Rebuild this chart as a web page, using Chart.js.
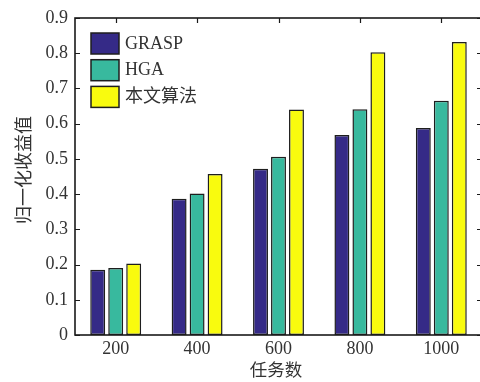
<!DOCTYPE html>
<html>
<head>
<meta charset="utf-8">
<script src="https://cdn.jsdelivr.net/npm/chart.js@4/dist/chart.umd.min.js"></script>
<style>
html,body{margin:0;padding:0;background:#fff;overflow:hidden;width:480px;height:382px;}
#wrap{position:absolute;left:0;top:0;width:486px;height:382px;}
</style>
</head>
<body>
<div id="wrap"><canvas id="c" width="486" height="382"></canvas></div>
<script>
const categories = ['200', '400', '600', '800', '1000'];
const seriesNames = ['GRASP', 'HGA', '本文算法'];
const graspValues = [0.185, 0.387, 0.472, 0.568, 0.588];
const hgaValues = [0.190, 0.402, 0.506, 0.641, 0.665];
const oursValues = [0.203, 0.457, 0.640, 0.803, 0.832];
const yTicks = [0, 0.1, 0.2, 0.3, 0.4, 0.5, 0.6, 0.7, 0.8, 0.9];
const xTitle = '任务数';
const yTitle = '归一化收益值';

const colors = ['#352a87', '#38b99e', '#f9fb0e'];
const edge = '#1e1e1e';
const txt = '#333333';
const FONT = '"Liberation Serif", "Times New Roman", "Noto Sans CJK SC", serif';

const overlay = {
  id: 'overlay',
  afterDatasetsDraw(chart) {
    const ctx = chart.ctx, a = chart.chartArea;
    const y = chart.scales.y, x = chart.scales.x;
    ctx.save();
    ctx.strokeStyle = '#1a1a1a';
    ctx.lineWidth = 1.6;
    ctx.strokeRect(a.left, a.top, a.right - a.left, a.bottom - a.top);
    ctx.lineWidth = 1.2;
    ctx.beginPath();
    yTicks.forEach(v => {
      const py = Math.round(y.getPixelForValue(v)) + 0.5;
      ctx.moveTo(a.left, py); ctx.lineTo(a.left + 5, py);
      ctx.moveTo(a.right, py); ctx.lineTo(a.right - 5, py);
    });
    categories.forEach((c, i) => {
      const px = Math.round(x.getPixelForValue(i)) + 0.5;
      ctx.moveTo(px, a.top); ctx.lineTo(px, a.top + 5);
    });
    ctx.stroke();
    // legend
    chart.data.datasets.forEach((ds, i) => {
      const bx = 91, by = 33 + i * 26.7, bw = 28, bh = 21;
      ctx.fillStyle = ds.backgroundColor;
      ctx.fillRect(bx, by, bw, bh);
      ctx.strokeStyle = edge; ctx.lineWidth = 1.5;
      ctx.strokeRect(bx, by, bw, bh);
      ctx.fillStyle = txt;
      ctx.font = '18px ' + FONT;
      ctx.textAlign = 'left'; ctx.textBaseline = 'middle';
      ctx.fillText(ds.label, 125, by + bh / 2 + 0.5);
    });
    // axis titles
    ctx.fillStyle = txt;
    ctx.font = '17.5px ' + FONT;
    ctx.textAlign = 'center'; ctx.textBaseline = 'middle';
    ctx.fillText(xTitle, 276, 371);
    ctx.translate(25, 170);
    ctx.rotate(-Math.PI / 2);
    ctx.font = '18px ' + FONT;
    ctx.fillText(yTitle, 0, 0);
    ctx.restore();
  }
};

new Chart(document.getElementById('c'), {
  type: 'bar',
  data: {
    labels: categories,
    datasets: [
      { label: seriesNames[0], data: graspValues, backgroundColor: colors[0] },
      { label: seriesNames[1], data: hgaValues, backgroundColor: colors[1] },
      { label: seriesNames[2], data: oursValues, backgroundColor: colors[2] }
    ].map(d => Object.assign(d, {
      borderColor: edge, borderWidth: 1.5, borderSkipped: false,
      categoryPercentage: 0.663, barPercentage: 0.83
    }))
  },
  options: {
    responsive: false,
    animation: false,
    devicePixelRatio: 1,
    layout: { padding: { top: 18, right: 4, left: 0, bottom: 0 } },
    plugins: { legend: { display: false }, tooltip: { enabled: false } },
    scales: {
      x: {
        grid: { display: false, drawTicks: false },
        border: { display: false },
        ticks: { color: txt, font: { family: FONT, size: 18 }, padding: 3, maxRotation: 0 },
        afterFit(s) { s.height = 47; }
      },
      y: {
        min: 0, max: 0.9,
        grid: { display: false, drawTicks: false },
        border: { display: false },
        afterBuildTicks(s) { s.ticks = yTicks.map(v => ({ value: v })); },
        ticks: {
          color: txt, font: { family: FONT, size: 18 }, padding: 7,
          callback: v => (v === 0 ? '0' : Number(v).toFixed(1))
        },
        afterFit(s) { s.width = 75; }
      }
    }
  },
  plugins: [overlay]
});
</script>
</body>
</html>
